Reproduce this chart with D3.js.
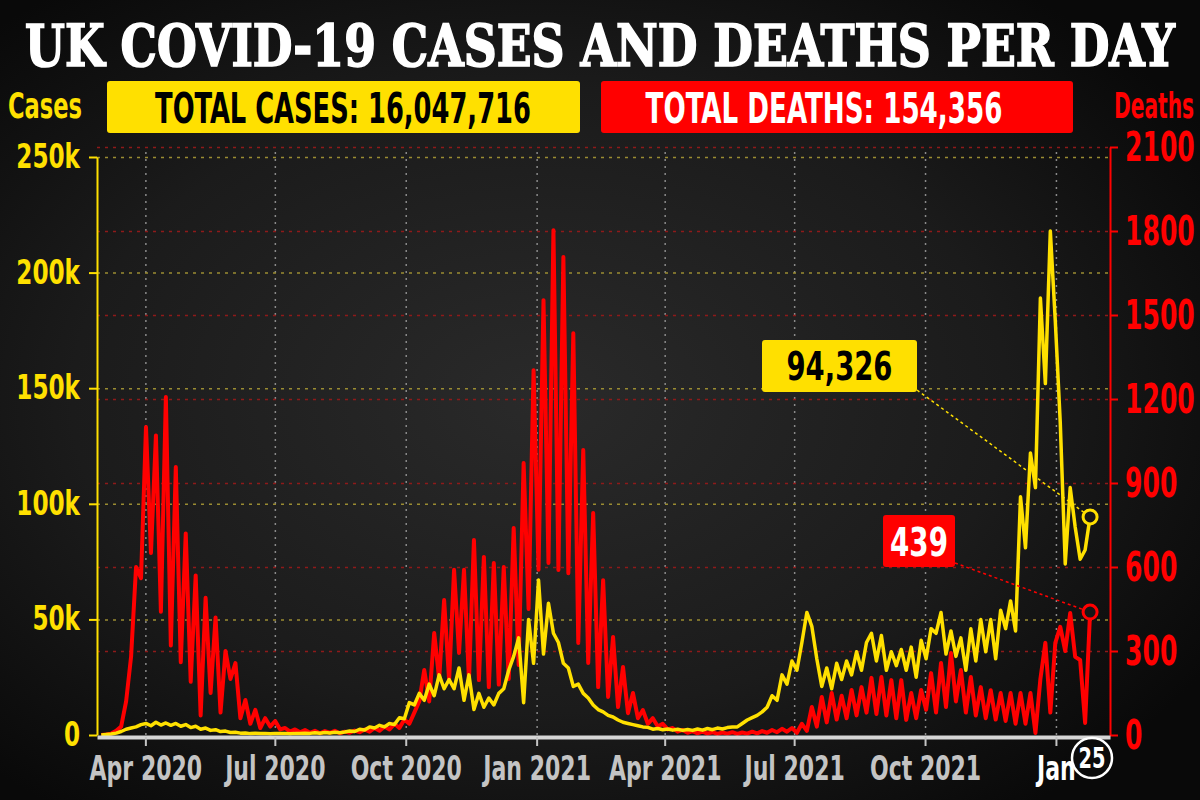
<!DOCTYPE html>
<html>
<head>
<meta charset="utf-8">
<script src="https://cdn.jsdelivr.net/npm/d3@7"></script>
<style>
  html, body { margin: 0; padding: 0; background: #0b0b0b; }
  svg { display: block; }
  .narrow { font-family: "Liberation Sans Narrow", "DejaVu Sans Condensed", "Roboto", sans-serif; font-weight: bold; }
  .title { font-family: "DejaVu Serif Condensed", "DejaVu Serif", serif; font-weight: bold; }
</style>
</head>
<body>
<svg id="chart" width="1200" height="800"></svg>
<script>
//
// Data (one value every ~3.5 days)
//

const START_DATE = '2020-03-01'
const END_DATE = '2022-01-25'

// daily cases, thousands
const casesK = [
  0, 0.2, 0.4, 0.8, 1.5, 2.5, 3, 3.5, 4.5, 5,
  4, 5.5, 4.3, 5.2, 4.2, 5, 3.8, 4.5, 3.2, 3.8,
  2.5, 3, 2, 2.3, 1.5, 1.7, 1.1, 1.2, 0.8, 0.9,
  0.6, 0.8, 0.6, 0.7, 0.5, 0.7, 0.6, 0.7, 0.5, 0.7,
  0.6, 0.8, 0.7, 1, 0.8, 1.1, 0.9, 1.2, 1, 1.3,
  1.7, 1.5, 2.5, 2.2, 3.5, 3, 4.2, 3.5, 5, 4.5,
  7.5, 7, 14, 13, 18, 15, 22, 17, 26, 20,
  24, 20, 29, 15, 26, 11, 18, 12, 16, 13,
  18, 20, 28, 34, 42, 14, 50, 31, 67, 35,
  57, 44, 40, 31, 29, 21, 22, 18, 16, 13,
  11, 10, 8.5, 7.8, 6.5, 5.5, 5, 4.5, 4, 3.5,
  3.3, 2.5, 2.8, 2.3, 2.6, 2.1, 2.5, 2, 2.4, 2,
  2.6, 2.1, 2.8, 2.3, 3, 2.6, 3.2, 3.5, 3.5, 5,
  6.5, 7.5, 8.5, 10, 12, 17, 15, 26, 22, 32,
  28, 40, 53, 47, 33, 21, 29, 20, 31, 24,
  32, 26, 36, 28, 40, 44, 32, 43, 28, 36,
  30, 37, 28, 38, 25, 41, 33, 46, 44, 53,
  35, 45, 34, 42, 28, 46, 32, 50, 36, 50,
  33, 54, 46, 58, 45, 103, 81, 122, 107, 189,
  152, 218, 179, 135, 74, 107, 90, 76, 80, 94.326
]

// daily deaths
const deaths = [
  0, 2, 5, 15, 30, 120, 280, 600, 560, 1100,
  650, 1070, 440, 1207, 320, 957, 260, 720, 190, 570,
  70, 490, 150, 420, 80, 300, 200, 257, 60, 125,
  40, 90, 25, 60, 30, 50, 20, 25, 12, 20,
  10, 18, 8, 15, 6, 14, 8, 15, 6, 12,
  8, 16, 10, 20, 12, 25, 15, 30, 20, 40,
  25, 55, 40, 80, 120, 232, 120, 364, 200, 482,
  196, 590, 293, 590, 196, 696, 196, 636, 171, 614,
  180, 600, 200, 739, 250, 971, 450, 1303, 590, 1553,
  614, 1803, 589, 1707, 578, 1435, 329, 1018, 257, 793,
  171, 553, 136, 350, 100, 243, 78, 150, 60, 89,
  40, 60, 30, 40, 20, 25, 12, 18, 8, 14,
  6, 12, 5, 10, 4, 9, 5, 10, 4, 9,
  5, 12, 6, 14, 8, 18, 10, 22, 12, 25,
  8, 40, 15, 100, 30, 136, 45, 150, 55, 140,
  60, 161, 70, 171, 80, 204, 75, 207, 70, 196,
  60, 196, 54, 150, 60, 161, 90, 221, 80, 257,
  100, 293, 120, 232, 80, 207, 70, 171, 60, 160,
  55, 150, 50, 150, 40, 150, 40, 150, 7, 200,
  329, 80, 329, 386, 300, 436, 279, 268, 43, 439
]

const caseTicks = [0, 50000, 100000, 150000, 200000, 250000]
const caseTickLabels = ['0', '50k', '100k', '150k', '200k', '250k']
const deathTicks = [0, 300, 600, 900, 1200, 1500, 1800, 2100]
const monthTicks = ['2020-04-01', '2020-07-01', '2020-10-01', '2021-01-01',
  '2021-04-01', '2021-07-01', '2021-10-01', '2022-01-01']
const monthLabels = ['Apr 2020', 'Jul 2020', 'Oct 2020', 'Jan 2021',
  'Apr 2021', 'Jul 2021', 'Oct 2021', 'Jan']

const titleText = 'UK COVID-19 CASES AND DEATHS PER DAY'
const totalCasesText = 'TOTAL CASES: 16,047,716'
const totalDeathsText = 'TOTAL DEATHS: 154,356'
const lastCasesText = '94,326'
const lastDeathsText = '439'
const lastDayText = '25'

//
// Configuration
//

var colorYellow = '#ffe000'
var colorRed = '#ff0000'
var colorAxisGrey = '#c4c4c4'
var plotLeft = 97, plotRight = 1110
var plotBottom = 735

//
// Helpers
//

// squeeze a text horizontally around its anchor point
function condense(sel, factor) {
  sel.each(function () {
    const t = d3.select(this)
    const x0 = +t.attr('x') || 0
    t.attr('x', x0 / factor).attr('transform', `scale(${factor},1)`)
  })
}

// text squeezed to a given width
function fitText(x, y, size, fill, text, width, cls) {
  const t = svg.append('text').attr('class', cls || 'narrow')
    .attr('x', x).attr('y', y).attr('text-anchor', 'middle')
    .attr('font-size', size).attr('fill', fill)
    .text(text)
  const len = t.node().getComputedTextLength()
  t.call(condense, Math.min(1, width / len))
  return t
}

//
// Scales
//

const parse = d3.timeParse('%Y-%m-%d')
const x = d3.scaleTime()
  .domain([parse('2020-02-27'), parse('2022-02-08')])
  .range([plotLeft, plotRight])
const yCases = d3.scaleLinear().domain([0, 250000]).range([plotBottom, 157])
const yDeaths = d3.scaleLinear().domain([0, 2100]).range([plotBottom, 147])

// sample dates evenly spaced between first and last reading
const n = casesK.length
const dateAt = d3.scaleLinear().domain([0, n - 1])
  .range([parse(START_DATE).getTime(), parse(END_DATE).getTime()])
const casesSeries = casesK.map((v, i) => ({ date: new Date(dateAt(i)), v: v * 1000 }))
const deathsSeries = deaths.map((v, i) => ({ date: new Date(dateAt(i)), v: v }))

const svg = d3.select('#chart')

//
// Background
//

const defs = svg.append('defs')
const grad = defs.append('radialGradient').attr('id', 'bg')
  .attr('cx', '45%').attr('cy', '50%').attr('r', '65%')
grad.append('stop').attr('offset', '0%').attr('stop-color', '#2a2a2a')
grad.append('stop').attr('offset', '60%').attr('stop-color', '#1b1b1b')
grad.append('stop').attr('offset', '100%').attr('stop-color', '#090909')
svg.append('rect').attr('width', 1200).attr('height', 800).attr('fill', 'url(#bg)')

//
// Header
//

fitText(600, 66, 58, '#fff', titleText, 1150, 'title')
  .attr('stroke', '#fff').attr('stroke-width', 1.6)

fitText(45, 118, 35, colorYellow, 'Cases', 74)
fitText(1154, 118, 35, colorRed, 'Deaths', 80)

svg.append('rect').attr('x', 107).attr('y', 81).attr('width', 473).attr('height', 52)
  .attr('rx', 3).attr('fill', colorYellow)
fitText(343, 123, 43, '#000', totalCasesText, 376)

svg.append('rect').attr('x', 601).attr('y', 81).attr('width', 472).attr('height', 52)
  .attr('rx', 3).attr('fill', colorRed)
fitText(824, 123, 43, '#fff', totalDeathsText, 357)

//
// Grid
//

const monthDates = monthTicks.map(parse)

svg.append('g')
  .attr('transform', `translate(0,${plotBottom})`)
  .call(d3.axisBottom(x).tickValues(monthDates).tickSize(-(plotBottom - 147)).tickFormat(''))
  .call(g => g.select('.domain').remove())
  .call(g => g.selectAll('.tick line')
    .attr('stroke', '#8a8a8a').attr('stroke-width', 1.5).attr('stroke-dasharray', '2,5'))

svg.append('g')
  .attr('transform', `translate(${plotLeft},0)`)
  .call(d3.axisRight(yDeaths).tickValues(deathTicks.slice(1)).tickSize(plotRight - plotLeft).tickFormat(''))
  .call(g => g.select('.domain').remove())
  .call(g => g.selectAll('.tick line')
    .attr('stroke', '#8e1a1a').attr('stroke-width', 1.5).attr('stroke-dasharray', '3,5'))

svg.append('g')
  .attr('transform', `translate(${plotLeft},0)`)
  .call(d3.axisRight(yCases).tickValues(caseTicks.slice(1)).tickSize(plotRight - plotLeft).tickFormat(''))
  .call(g => g.select('.domain').remove())
  .call(g => g.selectAll('.tick line')
    .attr('stroke', '#9a8c32').attr('stroke-width', 1.5).attr('stroke-dasharray', '3,5'))

//
// Lines
//

const deathLine = d3.line().x(d => x(d.date)).y(d => yDeaths(d.v))
const caseLine = d3.line().x(d => x(d.date)).y(d => yCases(d.v))

svg.append('path').datum(deathsSeries)
  .attr('d', deathLine)
  .attr('fill', 'none').attr('stroke', colorRed)
  .attr('stroke-width', 4).attr('stroke-linejoin', 'round')

svg.append('path').datum(casesSeries)
  .attr('d', caseLine)
  .attr('fill', 'none').attr('stroke', colorYellow)
  .attr('stroke-width', 3.5).attr('stroke-linejoin', 'round')

//
// Axes
//

svg.append('g')
  .attr('class', 'narrow')
  .attr('transform', `translate(${plotLeft},0)`)
  .call(d3.axisLeft(yCases).tickValues(caseTicks)
    .tickFormat((d, i) => caseTickLabels[i]).tickSize(8).tickSizeOuter(0).tickPadding(9))
  .call(g => g.select('.domain').attr('stroke', colorYellow).attr('stroke-width', 2))
  .call(g => g.selectAll('.tick line').attr('stroke', colorYellow).attr('stroke-width', 2))
  .call(g => g.selectAll('.tick text')
    .attr('fill', colorYellow).attr('font-size', 33)
    .attr('font-family', null).attr('font-weight', 'bold')
    .call(condense, 0.78))

svg.append('g')
  .attr('class', 'narrow')
  .attr('transform', `translate(${plotRight},0)`)
  .call(d3.axisRight(yDeaths).tickValues(deathTicks).tickFormat(d3.format('d'))
    .tickSize(8).tickSizeOuter(0).tickPadding(7))
  .call(g => g.select('.domain').attr('stroke', colorRed).attr('stroke-width', 2))
  .call(g => g.selectAll('.tick line').attr('stroke', colorRed).attr('stroke-width', 2))
  .call(g => g.selectAll('.tick text')
    .attr('fill', colorRed).attr('font-size', 41)
    .attr('font-family', null).attr('font-weight', 'bold')
    .call(condense, 0.68))

svg.append('g')
  .attr('class', 'narrow')
  .attr('transform', `translate(0,${plotBottom + 2})`)
  .call(d3.axisBottom(x).tickValues(monthDates)
    .tickFormat((d, i) => monthLabels[i]).tickSize(9).tickSizeOuter(0).tickPadding(12))
  .call(g => g.select('.domain').attr('stroke', '#d6d6d6').attr('stroke-width', 4))
  .call(g => g.selectAll('.tick line').attr('stroke', colorAxisGrey).attr('stroke-width', 2))
  .call(g => g.selectAll('.tick text')
    .attr('fill', (d, i) => i === monthLabels.length - 1 ? '#fff' : colorAxisGrey)
    .attr('font-size', 34).attr('dy', '0.66em')
    .attr('font-family', null).attr('font-weight', 'bold')
    .call(condense, 0.72))

//
// Annotations
//

const lastC = casesSeries[n - 1]
const lastD = deathsSeries[n - 1]

// leader lines
svg.append('line')
  .attr('x1', 917).attr('y1', 390)
  .attr('x2', x(lastC.date)).attr('y2', yCases(lastC.v))
  .attr('stroke', colorYellow).attr('stroke-width', 1.5).attr('stroke-dasharray', '3,3')
svg.append('line')
  .attr('x1', 955).attr('y1', 563)
  .attr('x2', x(lastD.date)).attr('y2', yDeaths(lastD.v))
  .attr('stroke', colorRed).attr('stroke-width', 1.5).attr('stroke-dasharray', '3,3')

svg.append('circle')
  .attr('cx', x(lastC.date)).attr('cy', yCases(lastC.v)).attr('r', 7)
  .attr('fill', '#161616').attr('stroke', colorYellow).attr('stroke-width', 3)
svg.append('circle')
  .attr('cx', x(lastD.date)).attr('cy', yDeaths(lastD.v)).attr('r', 7)
  .attr('fill', '#161616').attr('stroke', colorRed).attr('stroke-width', 3)

svg.append('rect').attr('x', 762).attr('y', 340).attr('width', 155).attr('height', 52)
  .attr('rx', 3).attr('fill', colorYellow)
fitText(839.5, 380, 39, '#000', lastCasesText, 106)

svg.append('rect').attr('x', 883).attr('y', 515).attr('width', 72).attr('height', 52)
  .attr('rx', 3).attr('fill', colorRed)
fitText(919, 556, 39, '#fff', lastDeathsText, 58)

// day marker on the time axis
svg.append('circle')
  .attr('cx', 1092).attr('cy', 758).attr('r', 20)
  .attr('fill', '#0b0b0b').attr('stroke', '#fff').attr('stroke-width', 2.5)
fitText(1092, 768, 28, '#fff', lastDayText, 27)
</script>
</body>
</html>
